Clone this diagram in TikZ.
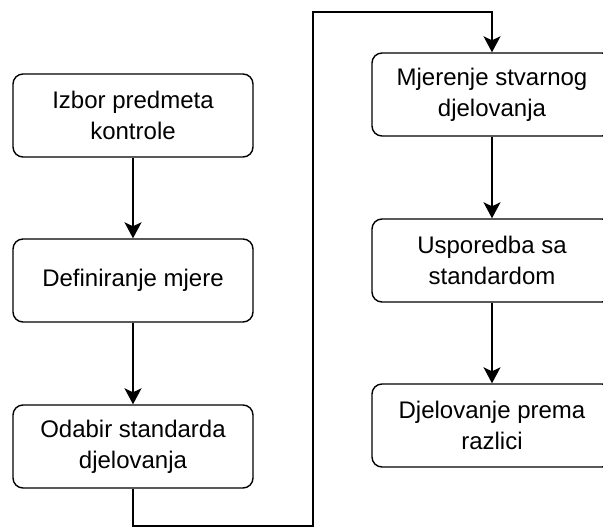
\documentclass[tikz,border=0pt]{standalone}
\usepackage{fontspec}
\setmainfont{Liberation Sans}
\usetikzlibrary{arrows.meta}
\begin{document}
\begin{tikzpicture}[x=1pt,y=-1pt,
  stepbox/.style={draw=black, line width=1.4pt, rounded corners=10pt, fill=white,
    minimum width=240pt, minimum height=83pt, align=center, inner sep=0pt,
    font=\fontsize{24}{31}\selectfont, text=black},
  conn/.style={draw=black, line width=1.4pt, -{Stealth[length=16pt,width=17pt,inset=4pt]}}]
\useasboundingbox (0,0) rectangle (603,529);
\clip (0,0) rectangle (603,529);
\node[stepbox] (a) at (133,115.5) {Izbor predmeta\\kontrole};
\node[stepbox] (b) at (133,280.5) {Definiranje mjere};
\node[stepbox] (c) at (133,446.5) {Odabir standarda\\djelovanja};
\node[stepbox] (d) at (492,94.5) {Mjerenje stvarnog\\djelovanja};
\node[stepbox] (e) at (492,260.5) {Usporedba sa\\standardom};
\node[stepbox] (f) at (492,425.5) {Djelovanje prema\\razlici};
\coordinate (p1) at (133,526);
\coordinate (p2) at (313,526);
\coordinate (p3) at (313,12);
\coordinate (p4) at (492,12);
\draw[conn] (a) -- (b);
\draw[conn] (b) -- (c);
\draw[conn] (c.south) -- (p1) -- (p2) -- (p3) -- (p4) -- (d.north);
\draw[conn] (d) -- (e);
\draw[conn] (e) -- (f);
\end{tikzpicture}
\end{document}
